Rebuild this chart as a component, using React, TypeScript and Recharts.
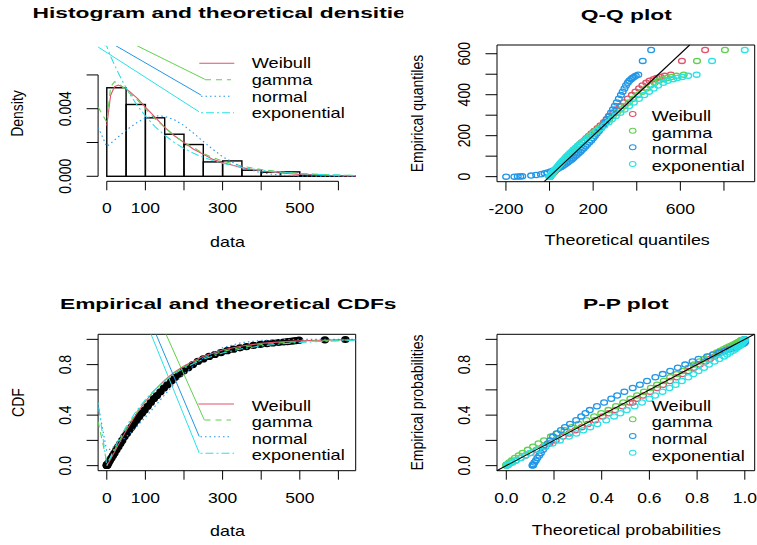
import React from "react";
import {
  ComposedChart,
  Bar,
  Line,
  Scatter,
  XAxis,
  YAxis,
  ReferenceLine,
  ReferenceArea,
} from "recharts";

const W = 757;
const H = 545;
const FONT = "'Liberation Sans', Arial, Helvetica, sans-serif";
const RED = "#DF536B";
const GREEN = "#61D04F";
const BLUE = "#2297E6";
const CYAN = "#28E2E5";

// histogram of the data, bins of width 50
const binWidth = 50;
const binMids = [25, 75, 125, 175, 225, 275, 325, 375, 425, 475, 525, 575, 625];
const binDensity = [0.00524, 0.00425, 0.00346, 0.00249, 0.00188, 0.00085, 0.00091, 0.00036, 0.00024, 0.00026, 0.00006, 0.00003, 0.00003];

// fitted densities
const densX = [-22.5, 0, 10, 20, 30, 40, 50, 60, 80, 100, 125, 150, 175, 200, 225, 250, 275, 300, 350, 400, 450, 500, 550, 600, 645];
const densWeibull = [null, 0.003, 0.0048, 0.0053, 0.0054, 0.0053, 0.0052, 0.005, 0.0046, 0.0041, 0.0035, 0.0029, 0.0024, 0.002, 0.0016, 0.0013, 0.001, 0.00082, 0.00051, 0.00031, 0.00019, 0.00011, 0.00006, 0.00004, 0.00002];
const densGamma = [0.0041, 0.0032, 0.0053, 0.0056, 0.0055, 0.0053, 0.0051, 0.0049, 0.0045, 0.004, 0.0034, 0.0029, 0.0024, 0.002, 0.0017, 0.00135, 0.0011, 0.0009, 0.0006, 0.0004, 0.00026, 0.00017, 0.00011, 0.00007, 0.00005];
const densNormal = [0.0029, 0.00176, 0.00195, 0.00214, 0.00234, 0.00253, 0.00272, 0.00289, 0.00321, 0.00344, 0.00358, 0.00355, 0.00335, 0.003, 0.00255, 0.00206, 0.00159, 0.00116, 0.00053, 0.0002, 0.00006, 0.00002, 0.00001, 0, 0];
const densExp = [0.008, 0.00769, 0.0071, 0.00659, 0.00611, 0.00566, 0.00524, 0.00485, 0.00416, 0.00357, 0.00294, 0.00243, 0.002, 0.00165, 0.00136, 0.00112, 0.00093, 0.00077, 0.00052, 0.00035, 0.00024, 0.00016, 0.00011, 0.00007, 0.00005];

// stray legend strokes running into the plot
const densStrayGammaX = [79, 254];
const densStrayGammaY = [0.00772, 0.00574];
const densStrayNormalX = [24, 244];
const densStrayNormalY = [0.00772, 0.00481];
const densStrayExpX = [-27, 239];
const densStrayExpY = [0.00772, 0.00382];

// fitted CDFs
const cdfX = [-22.5, 0, 10, 25, 50, 75, 100, 125, 150, 175, 200, 250, 300, 350, 400, 450, 500, 550, 600, 645];
const cdfWeibull = [null, 0, 0.051, 0.137, 0.277, 0.401, 0.509, 0.6, 0.676, 0.739, 0.79, 0.867, 0.916, 0.948, 0.968, 0.98, 0.988, 0.993, 0.996, 0.997];
const cdfGamma = [0.35, 0.03, 0.061, 0.153, 0.293, 0.414, 0.516, 0.602, 0.673, 0.733, 0.782, 0.855, 0.904, 0.937, 0.958, 0.972, 0.982, 0.988, 0.992, 0.994];
const cdfNormal = [0.48, 0.115, 0.134, 0.165, 0.227, 0.301, 0.383, 0.471, 0.561, 0.647, 0.727, 0.854, 0.934, 0.975, 0.992, 0.998, 0.9995, 1, 1, 1];
const cdfExp = [0.5, 0, 0.071, 0.169, 0.31, 0.426, 0.523, 0.604, 0.671, 0.726, 0.773, 0.843, 0.892, 0.925, 0.948, 0.964, 0.975, 0.983, 0.988, 0.991];

const cdfStrayGammaX = [153.5, 252.5];
const cdfStrayGammaY = [1.04, 0.363];
const cdfStrayNormalX = [127.6, 239.5];
const cdfStrayNormalY = [1.04, 0.231];
const cdfStrayExpX = [114.7, 239.5];
const cdfStrayExpY = [1.04, 0.1];

// sorted sample and its empirical probabilities
const empirical = [0, 0, 1, 1, 2, 5, 8, 12, 16, 20, 25, 30, 35, 40, 46, 52, 58, 64, 70, 77, 84, 91, 98, 106, 114, 122, 130, 139, 148, 157, 167, 177, 188, 199, 211, 223, 236, 250, 265, 280, 296, 312, 328, 345, 362, 380, 398, 415, 430, 445, 458, 468, 476, 482, 487, 492, 498, 565, 618];
const ecdfP = [0.0014, 0.004, 0.006, 0.008, 0.01, 0.025, 0.04, 0.06, 0.08, 0.1, 0.125, 0.15, 0.175, 0.2, 0.23, 0.255, 0.28, 0.305, 0.33, 0.36, 0.39, 0.415, 0.44, 0.47, 0.5, 0.53, 0.555, 0.585, 0.615, 0.64, 0.67, 0.7, 0.725, 0.75, 0.775, 0.8, 0.825, 0.845, 0.865, 0.88, 0.895, 0.91, 0.922, 0.933, 0.943, 0.952, 0.96, 0.966, 0.971, 0.975, 0.979, 0.982, 0.985, 0.987, 0.989, 0.991, 0.9932, 0.996, 0.9987];

// theoretical quantiles (Q-Q)
const qqWeibull = [0.4, 1.05, 1.5, 1.9, 2.4, 5.3, 8.1, 11.7, 15.2, 18.6, 23, 27.3, 31.7, 36.1, 41.4, 46, 50.7, 55.5, 60.3, 66.4, 72.6, 78, 83.5, 90.5, 97.8, 105.4, 112.1, 120.6, 129.6, 137.6, 147.8, 158.9, 169, 180, 192, 205.2, 220.1, 233.6, 249.5, 261.6, 276, 292.5, 307.8, 323.9, 340.9, 358.8, 377.6, 394.3, 410.5, 425.8, 443.4, 458.9, 477.2, 491.5, 508.1, 528, 556.2, 607.2, 713.6];
const qqGamma = [0.3, 0.8, 1.2, 1.5, 1.9, 4.4, 6.8, 10, 13.2, 16.4, 20.5, 24.6, 28.8, 33.1, 38.3, 42.8, 47.5, 52.3, 57.2, 63.3, 69.6, 75.2, 80.9, 88.1, 95.7, 103.6, 110.7, 119.6, 129.2, 137.7, 148.7, 160.7, 171.6, 183.6, 196.7, 211.2, 227.7, 242.6, 260.4, 273.9, 290.1, 308.8, 326.1, 344.4, 363.8, 384.4, 406.1, 425.4, 444.2, 461.9, 482.4, 500.6, 522.1, 538.9, 558.4, 582, 615.4, 676.3, 804.5];
const qqNormal = [-199, -161.4, -145.8, -134.4, -125.2, -84.6, -61.4, -39.6, -23, -9.3, 5.3, 18, 29.2, 39.6, 51, 59.9, 68.3, 76.4, 84.2, 93.3, 102, 109.1, 116.2, 124.7, 133, 141.3, 148.3, 156.9, 165.4, 172.7, 181.8, 191.2, 199.4, 207.8, 216.8, 226.4, 236.8, 245.7, 255.4, 263.4, 272.2, 281.9, 290.5, 299.4, 308.4, 317.8, 327.4, 335.6, 343.5, 350.6, 358.8, 365.8, 373.9, 380.1, 387.2, 395.6, 407, 427.4, 466];
const qqExp = [0.2, 0.54, 0.81, 1.08, 1.4, 3.4, 5.5, 8.4, 11.3, 14.2, 18, 21.9, 26, 30.1, 35.3, 39.7, 44.3, 49.1, 54.1, 60.3, 66.7, 72.4, 78.3, 85.7, 93.6, 101.9, 109.3, 118.7, 128.9, 137.9, 149.7, 162.5, 174.3, 187.2, 201.4, 217.3, 235.3, 251.7, 271.3, 286.2, 304.3, 325.1, 344.4, 364.9, 386.8, 410, 434.6, 456.5, 478, 498, 521.5, 542.3, 567, 586.3, 608.8, 635.9, 674.7, 745.4, 895.5];

// theoretical probabilities (P-P)
const ppWeibull = [0.001, 0.003, 0.005, 0.007, 0.009, 0.024, 0.04, 0.06, 0.081, 0.102, 0.128, 0.155, 0.181, 0.207, 0.238, 0.264, 0.29, 0.316, 0.342, 0.373, 0.404, 0.43, 0.456, 0.487, 0.518, 0.548, 0.573, 0.603, 0.632, 0.657, 0.686, 0.715, 0.739, 0.763, 0.787, 0.811, 0.835, 0.854, 0.873, 0.887, 0.901, 0.915, 0.926, 0.936, 0.946, 0.954, 0.962, 0.967, 0.972, 0.976, 0.98, 0.983, 0.985, 0.987, 0.989, 0.991, 0.993, 0.996, 0.999];
const ppGamma = [0, 0, 0.001, 0.001, 0.003, 0.012, 0.022, 0.036, 0.052, 0.068, 0.09, 0.112, 0.135, 0.158, 0.187, 0.215, 0.244, 0.274, 0.303, 0.336, 0.368, 0.398, 0.428, 0.46, 0.49, 0.52, 0.548, 0.577, 0.606, 0.632, 0.66, 0.687, 0.714, 0.739, 0.764, 0.787, 0.81, 0.83, 0.85, 0.867, 0.883, 0.898, 0.911, 0.923, 0.934, 0.944, 0.953, 0.96, 0.965, 0.97, 0.974, 0.977, 0.979, 0.981, 0.982, 0.983, 0.985, 0.992, 0.995];
const ppNormal = [0.11, 0.111, 0.112, 0.113, 0.113, 0.118, 0.124, 0.13, 0.138, 0.145, 0.154, 0.164, 0.174, 0.184, 0.196, 0.211, 0.229, 0.246, 0.267, 0.293, 0.314, 0.332, 0.35, 0.38, 0.41, 0.44, 0.465, 0.495, 0.53, 0.56, 0.59, 0.625, 0.656, 0.687, 0.719, 0.75, 0.781, 0.806, 0.842, 0.867, 0.892, 0.917, 0.937, 0.955, 0.967, 0.979, 0.987, 0.994, 0.998, 1, 1, 1, 1, 1, 1, 1, 1, 1, 1];
const ppExp = [0.0014, 0.004, 0.006, 0.008, 0.01, 0.025, 0.04, 0.06, 0.08, 0.1, 0.131, 0.163, 0.194, 0.225, 0.263, 0.294, 0.323, 0.352, 0.382, 0.419, 0.452, 0.478, 0.505, 0.538, 0.569, 0.6, 0.624, 0.655, 0.684, 0.71, 0.736, 0.763, 0.785, 0.806, 0.829, 0.85, 0.873, 0.893, 0.913, 0.926, 0.938, 0.951, 0.96, 0.968, 0.975, 0.98, 0.984, 0.987, 0.989, 0.991, 0.992, 0.993, 0.994, 0.995, 0.996, 0.997, 0.998, 0.999, 1];

const fitNames = ["Weibull", "gamma", "normal", "exponential"];
const fitColors = [RED, GREEN, BLUE, CYAN];
const fitDashes = ["0", "6 5", "1.5 3", "2 3 8 3"];

const dataTicks = [0, 100, 200, 300, 400, 500, 600];
const dataTickLabels = [0, 100, 300, 500];
const densTicks = [0, 0.002, 0.004, 0.006];
const densTickLabels = [0, 0.004];
const probTicks = [0, 0.2, 0.4, 0.6, 0.8, 1];
const probTickLabels = [0, 0.4, 0.8];
const qqXTicks = [-200, 0, 200, 400, 600, 800];
const qqXTickLabels = [-200, 0, 200, 600];
const qqYTicks = [0, 100, 200, 300, 400, 500, 600];
const qqYTickLabels = [0, 200, 400, 600];

// tables built from the arrays above
const histData = binMids.map((x, i) => ({ x, density: binDensity[i] }));
const densData = densX.map((x, i) => ({ x, weibull: densWeibull[i], gamma: densGamma[i], normal: densNormal[i], exp: densExp[i] }));
const cdfData = cdfX.map((x, i) => ({ x, weibull: cdfWeibull[i], gamma: cdfGamma[i], normal: cdfNormal[i], exp: cdfExp[i] }));
const pairs = (xs: number[], ys: number[]) => xs.map((x, i) => ({ x, y: ys[i] }));

// axis ranges (R style 4% padding)
const dataDomain = [-22.5, 644.8];
const densDomain = [-0.000297, 0.00773];
const probDomain = [-0.04, 1.04];
const qqXDomain = [-241, 941];
const qqYDomain = [-24.7, 642.7];
const ppXDomain = [-0.039, 1.0415];

const near = (arr: number[], v: number) => arr.some((t) => Math.abs(t - v) < 1e-9);

function xTick(shown: number[], digits: number) {
  return (p: any) =>
    near(shown, p.payload.value) ? (
      <text
        transform={`translate(${p.x},${p.y + 22.8}) scale(1.25,1)`}
        textAnchor="middle"
        fontSize={14}
        fontFamily={FONT}
        fill="#000"
      >
        {Number(p.payload.value).toFixed(digits)}
      </text>
    ) : (
      <g />
    );
}

function yTick(shown: number[], digits: number) {
  return (p: any) =>
    near(shown, p.payload.value) ? (
      <text
        transform={`translate(${p.x - 15.4},${p.y}) rotate(-90) scale(1,1.15)`}
        textAnchor="middle"
        fontSize={14}
        fontFamily={FONT}
        fill="#000"
      >
        {Number(p.payload.value).toFixed(digits)}
      </text>
    ) : (
      <g />
    );
}

const ring = (color: string) => (p: any) =>
  <ellipse cx={p.cx} cy={p.cy} rx={3.4} ry={2.6} fill="none" stroke={color} strokeWidth={1.3} />;
const blackDot = (p: any) => <ellipse cx={p.cx} cy={p.cy} rx={4.2} ry={3.6} fill="#000" />;

// bar drawn one bin wide around the centre Recharts gives it
const binBar = (px: number) => (p: any) => {
  const cx = p.x + p.width / 2;
  return <rect x={cx - px / 2} y={p.y} width={px} height={p.height} fill="none" stroke="#000" strokeWidth={1.4} />;
};

const axisCommon = {
  type: "number" as const,
  allowDataOverflow: true,
  interval: 0 as const,
  axisLine: false,
  tickLine: { stroke: "#000", strokeWidth: 1 },
  tickMargin: 0,
};

function fitLine(data: any[], key: string, i: number, z = 400) {
  return (
    <Line
      key={key}
      data={data}
      dataKey={key}
      type="linear"
      stroke={fitColors[i]}
      strokeWidth={1.1}
      strokeDasharray={fitDashes[i]}
      dot={false}
      activeDot={false}
      connectNulls={false}
      isAnimationActive={false}
      zIndex={z}
    />
  );
}

function strayLine(xs: number[], ys: number[], i: number) {
  return (
    <Line
      data={pairs(xs, ys)}
      dataKey="y"
      type="linear"
      stroke={fitColors[i]}
      strokeWidth={1}
      dot={false}
      activeDot={false}
      isAnimationActive={false}
    />
  );
}

function T({ x, y, children, size = 14, sx = 1.28, anchor = "middle", bold = false }: any) {
  return (
    <text
      transform={`translate(${x},${y}) scale(${sx},1)`}
      textAnchor={anchor}
      fontSize={size}
      fontWeight={bold ? 700 : 400}
      fontFamily={FONT}
      fill="#000"
    >
      {children}
    </text>
  );
}

function VT({ x, y, children }: any) {
  return (
    <text
      transform={`translate(${x},${y}) rotate(-90) scale(1,1.15)`}
      textAnchor="middle"
      fontSize={14}
      fontFamily={FONT}
      fill="#000"
    >
      {children}
    </text>
  );
}

function LineKey({ x0s, x1s, ys, textYs }: any) {
  return (
    <g>
      {fitNames.map((n, i) => (
        <g key={n}>
          <line x1={x0s[i]} x2={x1s[i]} y1={ys[i]} y2={ys[i]} stroke={fitColors[i]} strokeWidth={1.1} strokeDasharray={fitDashes[i]} />
          <T x={251.7} y={textYs[i]} anchor="start" sx={1.3}>{n}</T>
        </g>
      ))}
    </g>
  );
}

function PointKey({ ys, textYs }: any) {
  return (
    <g>
      {fitNames.map((n, i) => (
        <g key={n}>
          <ellipse cx={632.7} cy={ys[i]} rx={3.3} ry={2.5} fill="none" stroke={fitColors[i]} strokeWidth={1.1} />
          <T x={651.7} y={textYs[i]} anchor="start" sx={1.3}>{n}</T>
        </g>
      ))}
    </g>
  );
}

const layer: React.CSSProperties = { position: "absolute", left: 0, top: 0 };

export default function App() {
  const histPlotW = 355.7 - 98.1;
  const barPx = (binWidth / (dataDomain[1] - dataDomain[0])) * histPlotW;
  return (
    <div style={{ position: "absolute", left: 0, top: 0, width: W, height: H, background: "#fff" }}>
      {/* histogram + densities */}
      <div style={layer}>
        <ComposedChart width={W} height={H} data={histData} margin={{ left: 38.1, top: 45.7, right: 401.3, bottom: 333.7 }}>
          <XAxis {...axisCommon} dataKey="x" domain={dataDomain} ticks={dataTicks} tickSize={9} height={30} tick={xTick(dataTickLabels, 0)} />
          <YAxis {...axisCommon} domain={densDomain} ticks={densTicks} tickSize={11.5} width={60} tick={yTick(densTickLabels, 3)} />
          <ReferenceLine segment={[{ x: 0, y: densDomain[0] }, { x: 600, y: densDomain[0] }]} stroke="#000" strokeWidth={1} ifOverflow="visible" />
          <ReferenceLine segment={[{ x: dataDomain[0], y: 0 }, { x: dataDomain[0], y: 0.006 }]} stroke="#000" strokeWidth={1} ifOverflow="visible" />
          <Bar dataKey="density" shape={binBar(barPx)} isAnimationActive={false} />
          {fitLine(densData, "weibull", 0)}
          {fitLine(densData, "gamma", 1)}
          {fitLine(densData, "normal", 2)}
          {fitLine(densData, "exp", 3)}
          {strayLine(densStrayGammaX, densStrayGammaY, 1)}
          {strayLine(densStrayNormalX, densStrayNormalY, 2)}
          {strayLine(densStrayExpX, densStrayExpY, 3)}
        </ComposedChart>
      </div>

      {/* Q-Q plot */}
      <div style={layer}>
        <ComposedChart width={W} height={H} margin={{ left: 437, top: 45, right: 2.3, bottom: 333.3 }}>
          <XAxis {...axisCommon} dataKey="x" domain={qqXDomain} ticks={qqXTicks} tickSize={9} height={30} tick={xTick(qqXTickLabels, 0)} />
          <YAxis {...axisCommon} dataKey="y" domain={qqYDomain} ticks={qqYTicks} tickSize={11.5} width={60} tick={yTick(qqYTickLabels, 0)} />
          <ReferenceArea x1={qqXDomain[0]} x2={qqXDomain[1]} y1={qqYDomain[0]} y2={qqYDomain[1]} fill="none" stroke="#000" strokeWidth={1} ifOverflow="visible" />
          <Scatter data={pairs(qqWeibull, empirical)} shape={ring(RED)} isAnimationActive={false} />
          <Scatter data={pairs(qqGamma, empirical)} shape={ring(GREEN)} isAnimationActive={false} />
          <Scatter data={pairs(qqNormal, empirical)} shape={ring(BLUE)} isAnimationActive={false} />
          <Scatter data={pairs(qqExp, empirical)} shape={ring(CYAN)} isAnimationActive={false} />
          <ReferenceLine segment={[{ x: qqYDomain[0], y: qqYDomain[0] }, { x: qqYDomain[1], y: qqYDomain[1] }]} stroke="#000" strokeWidth={1.1} ifOverflow="visible" zIndex={900} />
        </ComposedChart>
      </div>

      {/* empirical and theoretical CDFs */}
      <div style={layer}>
        <ComposedChart width={W} height={H} margin={{ left: 38.1, top: 334.3, right: 401.3, bottom: 44.3 }}>
          <XAxis {...axisCommon} dataKey="x" domain={dataDomain} ticks={dataTicks} tickSize={9} height={30} tick={xTick(dataTickLabels, 0)} />
          <YAxis {...axisCommon} dataKey="y" domain={probDomain} ticks={probTicks} tickSize={11.5} width={60} tick={yTick(probTickLabels, 1)} />
          <ReferenceArea x1={dataDomain[0]} x2={dataDomain[1]} y1={probDomain[0]} y2={probDomain[1]} fill="none" stroke="#000" strokeWidth={1} ifOverflow="visible" />
          <Scatter data={pairs(empirical, ecdfP)} shape={blackDot} isAnimationActive={false} zIndex={350} />
          {fitLine(cdfData, "weibull", 0, 450)}
          {fitLine(cdfData, "gamma", 1, 450)}
          {fitLine(cdfData, "normal", 2, 450)}
          {fitLine(cdfData, "exp", 3, 450)}
          {strayLine(cdfStrayGammaX, cdfStrayGammaY, 1)}
          {strayLine(cdfStrayNormalX, cdfStrayNormalY, 2)}
          {strayLine(cdfStrayExpX, cdfStrayExpY, 3)}
        </ComposedChart>
      </div>

      {/* P-P plot */}
      <div style={layer}>
        <ComposedChart width={W} height={H} margin={{ left: 437, top: 334.3, right: 2.3, bottom: 44.3 }}>
          <XAxis {...axisCommon} dataKey="x" domain={ppXDomain} ticks={probTicks} tickSize={9} height={30} tick={xTick(probTicks, 1)} />
          <YAxis {...axisCommon} dataKey="y" domain={probDomain} ticks={probTicks} tickSize={11.5} width={60} tick={yTick(probTickLabels, 1)} />
          <ReferenceArea x1={ppXDomain[0]} x2={ppXDomain[1]} y1={probDomain[0]} y2={probDomain[1]} fill="none" stroke="#000" strokeWidth={1} ifOverflow="visible" />
          <Scatter data={pairs(ppWeibull, ecdfP)} shape={ring(RED)} isAnimationActive={false} />
          <Scatter data={pairs(ppGamma, ecdfP)} shape={ring(GREEN)} isAnimationActive={false} />
          <Scatter data={pairs(ppNormal, ecdfP)} shape={ring(BLUE)} isAnimationActive={false} />
          <Scatter data={pairs(ppExp, ecdfP)} shape={ring(CYAN)} isAnimationActive={false} />
          <ReferenceLine segment={[{ x: probDomain[0], y: probDomain[0] }, { x: probDomain[1], y: probDomain[1] }]} stroke="#000" strokeWidth={1.1} ifOverflow="visible" zIndex={900} />
        </ComposedChart>
      </div>

      {/* titles, axis titles and keys */}
      <svg width={W} height={H} style={{ ...layer, pointerEvents: "none" }}>
        <defs>
          <clipPath id="histTitleClip">
            <rect x={0} y={0} width={403.3} height={40} />
          </clipPath>
        </defs>
        <g clipPath="url(#histTitleClip)">
          <T x={225.5} y={18.3} size={15.5} sx={1.47} bold>Histogram and theoretical densities</T>
        </g>
        <T x={626.3} y={19.5} size={15.5} sx={1.47} bold>Q-Q plot</T>
        <T x={228.2} y={309.3} size={15.5} sx={1.47} bold>Empirical and theoretical CDFs</T>
        <T x={625.8} y={309.3} size={15.5} sx={1.47} bold>P-P plot</T>

        <T x={227.5} y={246.7}>data</T>
        <T x={627.2} y={245.3}>Theoretical quantiles</T>
        <T x={227.5} y={535.5}>data</T>
        <T x={626.3} y={535}>Theoretical probabilities</T>

        <VT x={23.3} y={113.5}>Density</VT>
        <VT x={423} y={113.5}>Empirical quantiles</VT>
        <VT x={24} y={402.5}>CDF</VT>
        <VT x={423} y={402.5}>Empirical probabilities</VT>

        <LineKey x0s={[199.3, 205, 201, 201]} x1s={[234.3, 231, 231, 234]} ys={[63.3, 79.7, 96.3, 112.7]} textYs={[68.3, 85, 101.7, 118.4]} />
        <LineKey x0s={[198.3, 204.5, 200.5, 200.5]} x1s={[234, 231, 231.7, 234]} ys={[404, 420, 436.7, 453.3]} textYs={[411, 427, 443.5, 460]} />
        <PointKey ys={[114, 130.7, 147.3, 164]} textYs={[121, 137.7, 154.3, 171]} />
        <PointKey ys={[402.7, 419.3, 436, 452.7]} textYs={[410.7, 427.3, 444, 460.7]} />
      </svg>
    </div>
  );
}
